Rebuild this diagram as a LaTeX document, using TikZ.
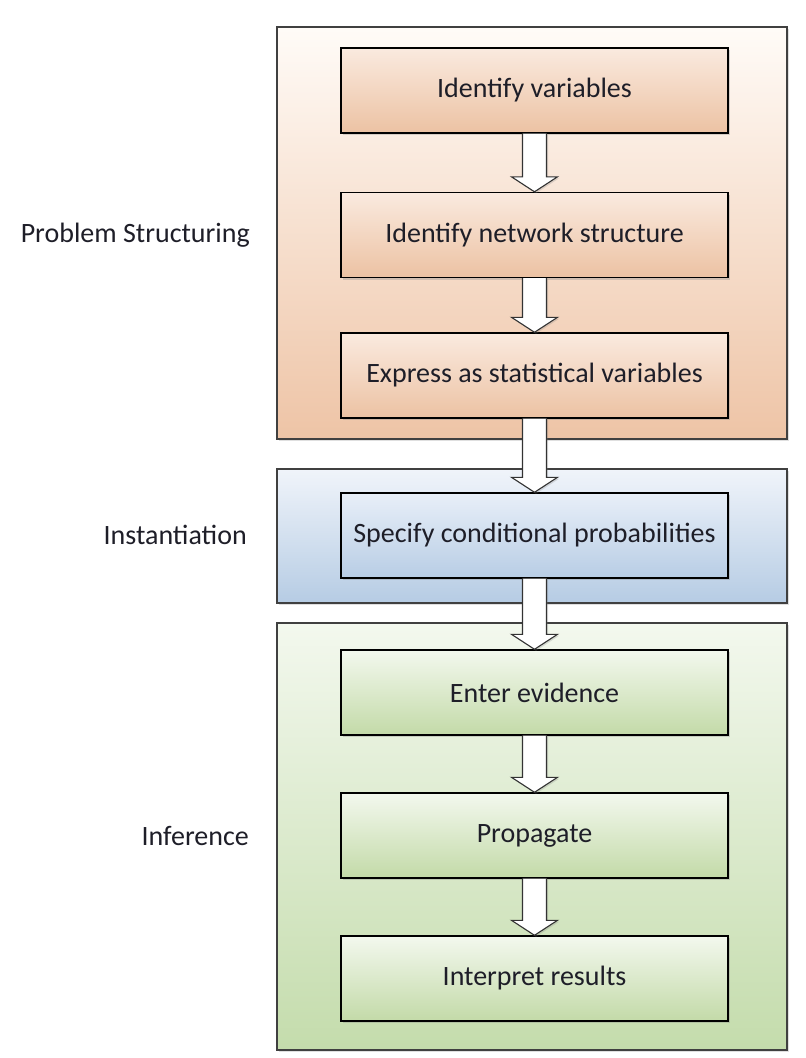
\documentclass[tikz,border=0pt]{standalone}
\usepackage{fontspec}
\setmainfont{Carlito}
\usetikzlibrary{calc,shadows}
\definecolor{txt}{HTML}{1E1E28}
\definecolor{orA}{RGB}{250,234,223}
\definecolor{orB}{RGB}{236,194,163}
\definecolor{blA}{RGB}{232,239,248}
\definecolor{blB}{RGB}{184,205,229}
\definecolor{grA}{RGB}{243,248,238}
\definecolor{grB}{RGB}{195,218,168}
\tikzset{
  stage/.style={draw=black!75, line width=1.2pt, minimum width=510pt, inner sep=0pt,
    drop shadow={opacity=0.25, shadow xshift=2pt, shadow yshift=-2pt}},
  orangeouter/.style={stage, top color=orange!3!white, bottom color={rgb,255:red,238;green,196;blue,166}},
  blueouter/.style={stage, top color={rgb,255:red,240;green,244;blue,250}, bottom color={rgb,255:red,182;green,204;blue,228}},
  greenouter/.style={stage, top color={rgb,255:red,243;green,248;blue,238}, bottom color={rgb,255:red,196;green,220;blue,172}},
  stepbox/.style={draw=black, line width=1.4pt, minimum width=387pt, minimum height=85pt, inner sep=0pt,
    font=\fontsize{28}{32}\selectfont, text=txt,
    drop shadow={opacity=0.3, shadow xshift=2pt, shadow yshift=-2pt}},
  orangebox/.style={stepbox, top color=orA, middle color=orB!85!orA, bottom color=orB},
  bluebox/.style={stepbox, top color=blA, middle color=blB!85!blA, bottom color=blB},
  greenbox/.style={stepbox, top color=grA, middle color=grB!85!grA, bottom color=grB},
  phase/.style={anchor=east, inner sep=0pt, font=\fontsize{28}{32}\selectfont, text=txt},
  barrow/.style={draw=black!80, line width=1.1pt, fill=white, line join=miter,
    drop shadow={opacity=0.25, shadow xshift=1.5pt, shadow yshift=-1.5pt}}
}
\newcommand\blockarr[2]{%
  \path[barrow] ($(#1.south)+(-12,0)$) -- ($(#2.north)+(-12,-15)$) -- ($(#2.north)+(-23,-15)$)
    -- (#2.north) -- ($(#2.north)+(23,-15)$) -- ($(#2.north)+(12,-15)$) -- ($(#1.south)+(12,0)$);}
\begin{document}
\begin{tikzpicture}[x=1pt,y=-1pt]
\useasboundingbox (0,0) rectangle (806,1058);
% outer phase boxes
\node[orangeouter, minimum height=412pt] (ps) at (532,233) {};
\node[blueouter, minimum height=134pt] (inst) at (532,536) {};
\node[greenouter, minimum height=427pt] (inf) at (532,836.5) {};
% phase labels
\node[phase] (lps) at (250,235) {Problem Structuring};
\node[phase] (linst) at (247,535) {Instantiation};
\node[phase] (linf) at (249,836) {Inference};
% step boxes
\node[orangebox] (s1) at (534.5,90.5) {Identify variables};
\node[orangebox] (s2) at (534.5,235) {Identify network structure};
\node[orangebox] (s3) at (534.5,375.5) {Express as statistical variables};
\node[bluebox] (s4) at (534.5,535.5) {Specify conditional probabilities};
\node[greenbox] (s5) at (534.5,692.5) {Enter evidence};
\node[greenbox] (s6) at (534.5,835.5) {Propagate};
\node[greenbox] (s7) at (534.5,978.5) {Interpret results};
% block arrows
\blockarr{s1}{s2}
\blockarr{s2}{s3}
\blockarr{s3}{s4}
\blockarr{s4}{s5}
\blockarr{s5}{s6}
\blockarr{s6}{s7}
\end{tikzpicture}
\end{document}
